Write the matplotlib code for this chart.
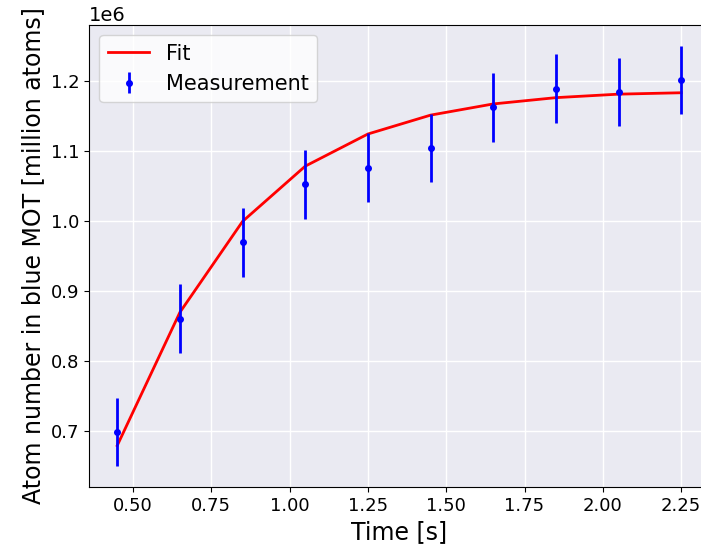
import numpy as np
import matplotlib
matplotlib.use('Agg')
import matplotlib.pyplot as plt

# Loading times and measured atom numbers
t = [0.45, 0.65, 0.85, 1.05, 1.25, 1.45, 1.65, 1.85, 2.05, 2.25]
n_meas = [0.698e6, 0.860e6, 0.969e6, 1.052e6, 1.076e6, 1.104e6, 1.162e6, 1.189e6, 1.184e6, 1.201e6]
n_err = [0.049e6] * 10
n_fit = [0.6785e6, 0.869e6, 0.999e6, 1.078e6, 1.124e6, 1.151e6, 1.167e6, 1.176e6, 1.181e6, 1.183e6]

fig = plt.figure(figsize=(7.01, 5.53), dpi=100)
ax = fig.add_axes([0.127, 0.119, 0.885, 0.836])
ax.set_facecolor('#EAEAF2')
ax.grid(True, color='white', linewidth=1.0)
ax.set_axisbelow(True)

ax.plot(t, n_fit, color='red', linewidth=2, label='Fit')
ax.errorbar(t, n_meas, yerr=n_err, fmt='o', color='blue', markersize=4,
            elinewidth=2, label='Measurement')

ax.set_xlim(0.36, 2.34)
ax.set_xticks([0.5, 0.75, 1.0, 1.25, 1.5, 1.75, 2.0, 2.25])
ax.set_xlabel('Time [s]', fontsize=17)
ax.set_ylabel('Atom number in blue MOT [million atoms]', fontsize=17)
ax.tick_params(labelsize=13)
ax.yaxis.get_offset_text().set_fontsize(14)
ax.legend(fontsize=15, loc='upper left')

fig.savefig('out.png')
